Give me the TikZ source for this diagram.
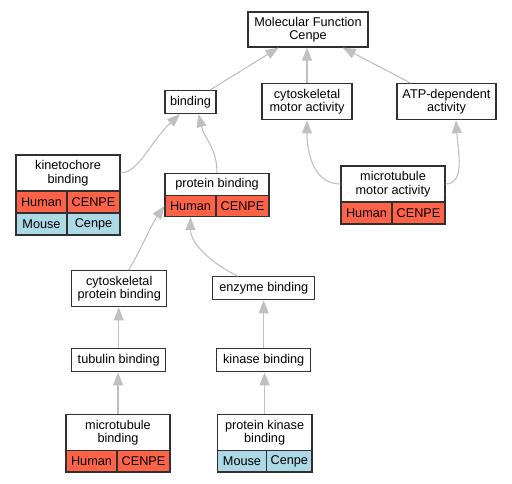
\documentclass[tikz,border=0pt]{standalone}
\usepackage{fontspec}
\setmainfont{Liberation Sans}
\usetikzlibrary{arrows.meta,calc}
\definecolor{tomatoc}{HTML}{FF6347}
\definecolor{lblue}{HTML}{ADD8E6}
\definecolor{edgegray}{HTML}{C0C0C0}
\definecolor{boxline}{HTML}{303030}
\newcommand{\diafont}{\fontsize{12.7}{13.5}\selectfont}
\tikzset{
  box/.style={draw=boxline, line width=1.2pt, fill=white, inner sep=0pt, align=center, font=\diafont},
  cellr/.style={box, fill=tomatoc},
  cellb/.style={box, fill=lblue},
  edge/.style={draw=edgegray, line width=1.1pt, -{Triangle[length=13pt,width=10pt,fill=edgegray]}},
}
\begin{document}
\begin{tikzpicture}[x=1pt,y=-1pt]
\useasboundingbox (0,0) rectangle (512,483);
% nodes
\node[box, minimum width=120pt, minimum height=35pt] (mf) at (308,29.5) {Molecular Function\\Cenpe};
\node[box, minimum width=51pt, minimum height=23pt] (bind) at (190.5,102) {binding};
\node[box, minimum width=90pt, minimum height=36pt] (cma) at (307,101.7) {cytoskeletal\\motor activity};
\node[box, minimum width=99pt, minimum height=36pt] (atp) at (446.5,101.7) {ATP-dependent\\activity};
% kinetochore binding
\node[box, minimum width=104pt, minimum height=36pt] (kin) at (68,173) {kinetochore\\binding};
\node[cellr, minimum width=51pt, minimum height=22pt] (kinH) at (41.5,202) {Human};
\node[cellr, minimum width=53pt, minimum height=22pt] (kinC) at (93.5,202) {CENPE};
\node[cellb, minimum width=51pt, minimum height=22pt] (kinM) at (41.5,224) {Mouse};
\node[cellb, minimum width=53pt, minimum height=22pt] (kinc) at (93.5,224) {Cenpe};
% protein binding
\node[box, minimum width=104pt, minimum height=22pt] (pb) at (217,184.5) {protein binding};
\node[cellr, minimum width=51pt, minimum height=21pt] (pbH) at (190.5,206) {Human};
\node[cellr, minimum width=53pt, minimum height=21pt] (pbC) at (242.5,206) {CENPE};
% microtubule motor activity
\node[box, minimum width=104pt, minimum height=36pt] (mma) at (393,184) {microtubule\\motor activity};
\node[cellr, minimum width=51pt, minimum height=22pt] (mmaH) at (366.5,213) {Human};
\node[cellr, minimum width=53pt, minimum height=22pt] (mmaC) at (418.5,213) {CENPE};
% middle
\node[box, minimum width=95pt, minimum height=36pt] (cpb) at (119.2,288.7) {cytoskeletal\\protein binding};
\node[box, minimum width=102pt, minimum height=23pt] (eb) at (263.8,288.3) {enzyme binding};
\node[box, minimum width=94pt, minimum height=23pt] (tb) at (118.7,360.3) {tubulin binding};
\node[box, minimum width=94pt, minimum height=23pt] (kb) at (263.7,360.3) {kinase binding};
% microtubule binding
\node[box, minimum width=104pt, minimum height=36pt] (mb) at (118,432.5) {microtubule\\binding};
\node[cellr, minimum width=51pt, minimum height=21.5pt] (mbH) at (91.5,461.3) {Human};
\node[cellr, minimum width=53pt, minimum height=21.5pt] (mbC) at (143.5,461.3) {CENPE};
% protein kinase binding
\node[box, minimum width=94.7pt, minimum height=36pt] (pkb) at (264.6,432.5) {protein kinase\\binding};
\node[cellb, minimum width=49.4pt, minimum height=21.5pt] (pkbM) at (242,461.3) {Mouse};
\node[cellb, minimum width=45.3pt, minimum height=21.5pt] (pkbc) at (289.3,461.3) {Cenpe};
% edges
\draw[edge] (bind) -- (mf);
\draw[edge] (cma.north) -- (cma.north |- mf.south);
\draw[edge] (atp) -- (mf);
\draw[edge] (kin.east) .. controls +(18,0) and +(-30,28) .. ([xshift=-10.5pt]bind.south);
\draw[edge] (pb.north) .. controls +(0,-25) and +(6,25) .. ([xshift=8pt]bind.south);
\draw[edge] (mma.west) .. controls +(-28,0) and +(0,30) .. (cma.south);
\draw[edge] (mma.east) .. controls +(20,0) and +(2,30) .. ([xshift=9.5pt]atp.south);
\draw[edge] ([xshift=9.5pt]cpb.north) .. controls +(12,-20) and +(-14,20) .. (pbH.west);
\draw[edge] ([xshift=-26pt]eb.north) .. controls +(-30,-15) and +(0,25) .. (pbH.south);
\draw[edge] (tb.north) -- (tb.north |- cpb.south);
\draw[edge] (kb.north) -- (kb.north |- eb.south);
\draw[edge] (mb.north) -- (mb.north |- tb.south);
\draw[edge] (pkb.north) -- (pkb.north |- kb.south);
\end{tikzpicture}
\end{document}
